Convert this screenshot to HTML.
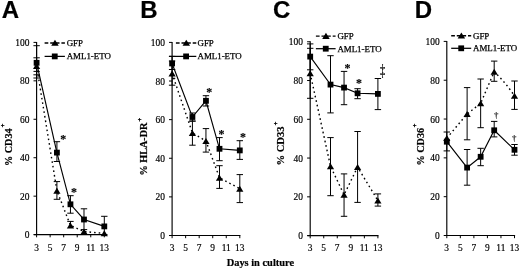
<!DOCTYPE html>
<html><head><meta charset="utf-8"><title>Figure</title>
<style>
html,body{margin:0;padding:0;background:#fff;}
svg{display:block;}
</style></head>
<body>
<svg width="520" height="270" viewBox="0 0 520 270">
<rect width="520" height="270" fill="#fff"/>
<line x1="36.60" y1="41.90" x2="36.60" y2="235.10" stroke="#000" stroke-width="1.15"/>
<line x1="33.80" y1="234.60" x2="104.90" y2="234.60" stroke="#000" stroke-width="1.15"/>
<line x1="33.50" y1="234.60" x2="36.60" y2="234.60" stroke="#000" stroke-width="1.0"/>
<text x="29.40" y="238.10" font-size="9.45" text-anchor="end" font-weight="normal" font-family='"Liberation Serif", "DejaVu Serif", serif' stroke="#000" stroke-width="0.18">0</text>
<line x1="33.50" y1="196.16" x2="36.60" y2="196.16" stroke="#000" stroke-width="1.0"/>
<text x="29.40" y="199.66" font-size="9.45" text-anchor="end" font-weight="normal" font-family='"Liberation Serif", "DejaVu Serif", serif' stroke="#000" stroke-width="0.18">20</text>
<line x1="33.50" y1="157.72" x2="36.60" y2="157.72" stroke="#000" stroke-width="1.0"/>
<text x="29.40" y="161.22" font-size="9.45" text-anchor="end" font-weight="normal" font-family='"Liberation Serif", "DejaVu Serif", serif' stroke="#000" stroke-width="0.18">40</text>
<line x1="33.50" y1="119.28" x2="36.60" y2="119.28" stroke="#000" stroke-width="1.0"/>
<text x="29.40" y="122.78" font-size="9.45" text-anchor="end" font-weight="normal" font-family='"Liberation Serif", "DejaVu Serif", serif' stroke="#000" stroke-width="0.18">60</text>
<line x1="33.50" y1="80.84" x2="36.60" y2="80.84" stroke="#000" stroke-width="1.0"/>
<text x="29.40" y="84.34" font-size="9.45" text-anchor="end" font-weight="normal" font-family='"Liberation Serif", "DejaVu Serif", serif' stroke="#000" stroke-width="0.18">80</text>
<line x1="33.50" y1="42.40" x2="36.60" y2="42.40" stroke="#000" stroke-width="1.0"/>
<text x="29.40" y="45.90" font-size="9.45" text-anchor="end" font-weight="normal" font-family='"Liberation Serif", "DejaVu Serif", serif' stroke="#000" stroke-width="0.18">100</text>
<line x1="36.60" y1="234.60" x2="36.60" y2="237.30" stroke="#000" stroke-width="1.0"/>
<text x="36.50" y="251.10" font-size="9.4" text-anchor="middle" font-weight="normal" font-family='"Liberation Serif", "DejaVu Serif", serif' stroke="#000" stroke-width="0.18">3</text>
<line x1="50.14" y1="234.60" x2="50.14" y2="237.30" stroke="#000" stroke-width="1.0"/>
<text x="50.04" y="251.10" font-size="9.4" text-anchor="middle" font-weight="normal" font-family='"Liberation Serif", "DejaVu Serif", serif' stroke="#000" stroke-width="0.18">5</text>
<line x1="63.68" y1="234.60" x2="63.68" y2="237.30" stroke="#000" stroke-width="1.0"/>
<text x="63.58" y="251.10" font-size="9.4" text-anchor="middle" font-weight="normal" font-family='"Liberation Serif", "DejaVu Serif", serif' stroke="#000" stroke-width="0.18">7</text>
<line x1="77.22" y1="234.60" x2="77.22" y2="237.30" stroke="#000" stroke-width="1.0"/>
<text x="77.12" y="251.10" font-size="9.4" text-anchor="middle" font-weight="normal" font-family='"Liberation Serif", "DejaVu Serif", serif' stroke="#000" stroke-width="0.18">9</text>
<line x1="90.76" y1="234.60" x2="90.76" y2="237.30" stroke="#000" stroke-width="1.0"/>
<text x="90.66" y="251.10" font-size="9.4" text-anchor="middle" font-weight="normal" font-family='"Liberation Serif", "DejaVu Serif", serif' stroke="#000" stroke-width="0.18">11</text>
<line x1="104.30" y1="234.60" x2="104.30" y2="237.30" stroke="#000" stroke-width="1.0"/>
<text x="104.20" y="251.10" font-size="9.4" text-anchor="middle" font-weight="normal" font-family='"Liberation Serif", "DejaVu Serif", serif' stroke="#000" stroke-width="0.18">13</text>
<text x="1.70" y="18.40" font-size="24" text-anchor="start" font-weight="bold" font-family='"Liberation Sans", "DejaVu Sans", sans-serif' stroke="#000" stroke-width="0.2">A</text>
<text transform="translate(11.7,166) rotate(-90)" font-size="10.2" font-weight="bold" font-family='"Liberation Serif", "DejaVu Serif", serif' stroke="#000" stroke-width="0.2">% CD34<tspan dy="-6.3" dx="1.1" font-size="6.5" font-weight="normal" stroke-width="0.45">+</tspan></text>
<line x1="44.60" y1="43.00" x2="64.90" y2="43.00" stroke="#000" stroke-width="1.45" stroke-dasharray="3.7 1.9"/>
<polygon points="54.95,39.75 58.70,45.85 51.20,45.85" fill="#000"/>
<text x="66.70" y="46.00" font-size="8.9" text-anchor="start" font-weight="normal" font-family='"Liberation Serif", "DejaVu Serif", serif' stroke="#000" stroke-width="0.25">GFP</text>
<line x1="44.60" y1="56.40" x2="64.90" y2="56.40" stroke="#000" stroke-width="1.25"/>
<rect x="51.85" y="53.50" width="5.8" height="5.8" fill="#000"/>
<text x="66.70" y="59.40" font-size="8.9" text-anchor="start" font-weight="normal" font-family='"Liberation Serif", "DejaVu Serif", serif' stroke="#000" stroke-width="0.25">AML1-ETO</text>
<path d="M36.60,66.00 L56.91,190.70 L70.45,225.40 L83.99,231.60 L104.30,233.30" fill="none" stroke="#000" stroke-width="1.4" stroke-dasharray="1.6 3.0"/>
<line x1="36.60" y1="57.80" x2="36.60" y2="74.80" stroke="#000" stroke-width="1.0"/>
<line x1="33.40" y1="57.80" x2="39.80" y2="57.80" stroke="#000" stroke-width="1.0"/>
<line x1="33.40" y1="74.80" x2="39.80" y2="74.80" stroke="#000" stroke-width="1.0"/>
<polygon points="36.60,63.00 40.20,69.00 33.00,69.00" fill="#000"/>
<line x1="56.91" y1="181.60" x2="56.91" y2="199.30" stroke="#000" stroke-width="1.0"/>
<line x1="53.71" y1="181.60" x2="60.11" y2="181.60" stroke="#000" stroke-width="1.0"/>
<line x1="53.71" y1="199.30" x2="60.11" y2="199.30" stroke="#000" stroke-width="1.0"/>
<polygon points="56.91,187.70 60.51,193.70 53.31,193.70" fill="#000"/>
<line x1="70.45" y1="221.40" x2="70.45" y2="225.40" stroke="#000" stroke-width="1.0"/>
<line x1="67.25" y1="221.40" x2="73.65" y2="221.40" stroke="#000" stroke-width="1.0"/>
<polygon points="70.45,222.40 74.05,228.40 66.85,228.40" fill="#000"/>
<polygon points="83.99,228.60 87.59,234.60 80.39,234.60" fill="#000"/>
<polygon points="104.30,230.30 107.90,236.30 100.70,236.30" fill="#000"/>
<polyline points="36.60,62.80 56.91,152.60 70.45,204.30 83.99,219.50 104.30,226.40" fill="none" stroke="#000" stroke-width="1.15"/>
<line x1="36.60" y1="45.70" x2="36.60" y2="78.00" stroke="#000" stroke-width="1.0"/>
<line x1="33.40" y1="45.70" x2="39.80" y2="45.70" stroke="#000" stroke-width="1.0"/>
<line x1="33.40" y1="78.00" x2="39.80" y2="78.00" stroke="#000" stroke-width="1.0"/>
<rect x="33.70" y="59.90" width="5.8" height="5.8" fill="#000"/>
<line x1="56.91" y1="141.70" x2="56.91" y2="161.50" stroke="#000" stroke-width="1.0"/>
<line x1="53.71" y1="141.70" x2="60.11" y2="141.70" stroke="#000" stroke-width="1.0"/>
<line x1="53.71" y1="161.50" x2="60.11" y2="161.50" stroke="#000" stroke-width="1.0"/>
<rect x="54.01" y="149.70" width="5.8" height="5.8" fill="#000"/>
<line x1="70.45" y1="195.70" x2="70.45" y2="213.20" stroke="#000" stroke-width="1.0"/>
<line x1="67.25" y1="195.70" x2="73.65" y2="195.70" stroke="#000" stroke-width="1.0"/>
<line x1="67.25" y1="213.20" x2="73.65" y2="213.20" stroke="#000" stroke-width="1.0"/>
<rect x="67.55" y="201.40" width="5.8" height="5.8" fill="#000"/>
<line x1="83.99" y1="208.80" x2="83.99" y2="229.60" stroke="#000" stroke-width="1.0"/>
<line x1="80.79" y1="208.80" x2="87.19" y2="208.80" stroke="#000" stroke-width="1.0"/>
<line x1="80.79" y1="229.60" x2="87.19" y2="229.60" stroke="#000" stroke-width="1.0"/>
<rect x="81.09" y="216.60" width="5.8" height="5.8" fill="#000"/>
<line x1="104.30" y1="216.30" x2="104.30" y2="234.60" stroke="#000" stroke-width="1.0"/>
<line x1="101.10" y1="216.30" x2="107.50" y2="216.30" stroke="#000" stroke-width="1.0"/>
<line x1="101.10" y1="234.60" x2="107.50" y2="234.60" stroke="#000" stroke-width="1.0"/>
<rect x="101.40" y="223.50" width="5.8" height="5.8" fill="#000"/>
<line x1="33.50" y1="71.40" x2="39.80" y2="71.40" stroke="#000" stroke-width="1.0"/>
<text x="63.30" y="143.30" font-size="12" text-anchor="middle" font-weight="bold" font-family='"Liberation Serif", "DejaVu Serif", serif' stroke="#000" stroke-width="0.15">*</text>
<text x="73.90" y="196.00" font-size="12" text-anchor="middle" font-weight="bold" font-family='"Liberation Serif", "DejaVu Serif", serif' stroke="#000" stroke-width="0.15">*</text>
<line x1="172.10" y1="41.90" x2="172.10" y2="236.00" stroke="#000" stroke-width="1.15"/>
<line x1="169.30" y1="235.50" x2="240.40" y2="235.50" stroke="#000" stroke-width="1.15"/>
<line x1="169.00" y1="235.50" x2="172.10" y2="235.50" stroke="#000" stroke-width="1.0"/>
<text x="164.90" y="239.00" font-size="9.45" text-anchor="end" font-weight="normal" font-family='"Liberation Serif", "DejaVu Serif", serif' stroke="#000" stroke-width="0.18">0</text>
<line x1="169.00" y1="196.88" x2="172.10" y2="196.88" stroke="#000" stroke-width="1.0"/>
<text x="164.90" y="200.38" font-size="9.45" text-anchor="end" font-weight="normal" font-family='"Liberation Serif", "DejaVu Serif", serif' stroke="#000" stroke-width="0.18">20</text>
<line x1="169.00" y1="158.26" x2="172.10" y2="158.26" stroke="#000" stroke-width="1.0"/>
<text x="164.90" y="161.76" font-size="9.45" text-anchor="end" font-weight="normal" font-family='"Liberation Serif", "DejaVu Serif", serif' stroke="#000" stroke-width="0.18">40</text>
<line x1="169.00" y1="119.64" x2="172.10" y2="119.64" stroke="#000" stroke-width="1.0"/>
<text x="164.90" y="123.14" font-size="9.45" text-anchor="end" font-weight="normal" font-family='"Liberation Serif", "DejaVu Serif", serif' stroke="#000" stroke-width="0.18">60</text>
<line x1="169.00" y1="81.02" x2="172.10" y2="81.02" stroke="#000" stroke-width="1.0"/>
<text x="164.90" y="84.52" font-size="9.45" text-anchor="end" font-weight="normal" font-family='"Liberation Serif", "DejaVu Serif", serif' stroke="#000" stroke-width="0.18">80</text>
<line x1="169.00" y1="42.40" x2="172.10" y2="42.40" stroke="#000" stroke-width="1.0"/>
<text x="164.90" y="45.90" font-size="9.45" text-anchor="end" font-weight="normal" font-family='"Liberation Serif", "DejaVu Serif", serif' stroke="#000" stroke-width="0.18">100</text>
<line x1="172.10" y1="235.50" x2="172.10" y2="238.20" stroke="#000" stroke-width="1.0"/>
<text x="172.00" y="251.10" font-size="9.4" text-anchor="middle" font-weight="normal" font-family='"Liberation Serif", "DejaVu Serif", serif' stroke="#000" stroke-width="0.18">3</text>
<line x1="185.64" y1="235.50" x2="185.64" y2="238.20" stroke="#000" stroke-width="1.0"/>
<text x="185.54" y="251.10" font-size="9.4" text-anchor="middle" font-weight="normal" font-family='"Liberation Serif", "DejaVu Serif", serif' stroke="#000" stroke-width="0.18">5</text>
<line x1="199.18" y1="235.50" x2="199.18" y2="238.20" stroke="#000" stroke-width="1.0"/>
<text x="199.08" y="251.10" font-size="9.4" text-anchor="middle" font-weight="normal" font-family='"Liberation Serif", "DejaVu Serif", serif' stroke="#000" stroke-width="0.18">7</text>
<line x1="212.72" y1="235.50" x2="212.72" y2="238.20" stroke="#000" stroke-width="1.0"/>
<text x="212.62" y="251.10" font-size="9.4" text-anchor="middle" font-weight="normal" font-family='"Liberation Serif", "DejaVu Serif", serif' stroke="#000" stroke-width="0.18">9</text>
<line x1="226.26" y1="235.50" x2="226.26" y2="238.20" stroke="#000" stroke-width="1.0"/>
<text x="226.16" y="251.10" font-size="9.4" text-anchor="middle" font-weight="normal" font-family='"Liberation Serif", "DejaVu Serif", serif' stroke="#000" stroke-width="0.18">11</text>
<line x1="239.80" y1="235.50" x2="239.80" y2="238.20" stroke="#000" stroke-width="1.0"/>
<text x="239.70" y="251.10" font-size="9.4" text-anchor="middle" font-weight="normal" font-family='"Liberation Serif", "DejaVu Serif", serif' stroke="#000" stroke-width="0.18">13</text>
<text x="140.20" y="18.40" font-size="24" text-anchor="start" font-weight="bold" font-family='"Liberation Sans", "DejaVu Sans", sans-serif' stroke="#000" stroke-width="0.2">B</text>
<text transform="translate(147,175.5) rotate(-90)" font-size="10.2" font-weight="bold" font-family='"Liberation Serif", "DejaVu Serif", serif' stroke="#000" stroke-width="0.2">% HLA-DR<tspan dy="-4.9" dx="1.1" font-size="6.5" font-weight="normal" stroke-width="0.45">+</tspan></text>
<line x1="175.90" y1="43.00" x2="196.30" y2="43.00" stroke="#000" stroke-width="1.45" stroke-dasharray="3.7 1.9"/>
<polygon points="186.30,39.75 190.05,45.85 182.55,45.85" fill="#000"/>
<text x="197.50" y="46.00" font-size="8.9" text-anchor="start" font-weight="normal" font-family='"Liberation Serif", "DejaVu Serif", serif' stroke="#000" stroke-width="0.25">GFP</text>
<line x1="169.00" y1="56.40" x2="196.30" y2="56.40" stroke="#000" stroke-width="1.25"/>
<rect x="183.20" y="53.50" width="5.8" height="5.8" fill="#000"/>
<text x="197.50" y="59.40" font-size="8.9" text-anchor="start" font-weight="normal" font-family='"Liberation Serif", "DejaVu Serif", serif' stroke="#000" stroke-width="0.25">AML1-ETO</text>
<path d="M172.10,73.50 L192.41,132.90 L205.95,141.00 L219.49,177.70 L239.80,188.70" fill="none" stroke="#000" stroke-width="1.4" stroke-dasharray="1.6 3.0"/>
<line x1="172.10" y1="61.00" x2="172.10" y2="85.20" stroke="#000" stroke-width="1.0"/>
<line x1="168.90" y1="61.00" x2="175.30" y2="61.00" stroke="#000" stroke-width="1.0"/>
<line x1="168.90" y1="85.20" x2="175.30" y2="85.20" stroke="#000" stroke-width="1.0"/>
<polygon points="172.10,70.50 175.70,76.50 168.50,76.50" fill="#000"/>
<line x1="192.41" y1="121.10" x2="192.41" y2="145.20" stroke="#000" stroke-width="1.0"/>
<line x1="189.21" y1="121.10" x2="195.61" y2="121.10" stroke="#000" stroke-width="1.0"/>
<line x1="189.21" y1="145.20" x2="195.61" y2="145.20" stroke="#000" stroke-width="1.0"/>
<polygon points="192.41,129.90 196.01,135.90 188.81,135.90" fill="#000"/>
<line x1="205.95" y1="128.60" x2="205.95" y2="152.10" stroke="#000" stroke-width="1.0"/>
<line x1="202.75" y1="128.60" x2="209.15" y2="128.60" stroke="#000" stroke-width="1.0"/>
<line x1="202.75" y1="152.10" x2="209.15" y2="152.10" stroke="#000" stroke-width="1.0"/>
<polygon points="205.95,138.00 209.55,144.00 202.35,144.00" fill="#000"/>
<line x1="219.49" y1="165.70" x2="219.49" y2="188.40" stroke="#000" stroke-width="1.0"/>
<line x1="216.29" y1="165.70" x2="222.69" y2="165.70" stroke="#000" stroke-width="1.0"/>
<line x1="216.29" y1="188.40" x2="222.69" y2="188.40" stroke="#000" stroke-width="1.0"/>
<polygon points="219.49,174.70 223.09,180.70 215.89,180.70" fill="#000"/>
<line x1="239.80" y1="174.60" x2="239.80" y2="202.60" stroke="#000" stroke-width="1.0"/>
<line x1="236.60" y1="174.60" x2="243.00" y2="174.60" stroke="#000" stroke-width="1.0"/>
<line x1="236.60" y1="202.60" x2="243.00" y2="202.60" stroke="#000" stroke-width="1.0"/>
<polygon points="239.80,185.70 243.40,191.70 236.20,191.70" fill="#000"/>
<polyline points="172.10,63.50 192.41,117.00 205.95,100.80 219.49,148.80 239.80,150.40" fill="none" stroke="#000" stroke-width="1.15"/>
<line x1="172.10" y1="56.40" x2="172.10" y2="69.50" stroke="#000" stroke-width="1.0"/>
<line x1="168.90" y1="56.40" x2="175.30" y2="56.40" stroke="#000" stroke-width="1.0"/>
<line x1="168.90" y1="69.50" x2="175.30" y2="69.50" stroke="#000" stroke-width="1.0"/>
<rect x="169.20" y="60.60" width="5.8" height="5.8" fill="#000"/>
<line x1="192.41" y1="113.00" x2="192.41" y2="121.10" stroke="#000" stroke-width="1.0"/>
<line x1="189.21" y1="113.00" x2="195.61" y2="113.00" stroke="#000" stroke-width="1.0"/>
<line x1="189.21" y1="121.10" x2="195.61" y2="121.10" stroke="#000" stroke-width="1.0"/>
<rect x="189.51" y="114.10" width="5.8" height="5.8" fill="#000"/>
<line x1="205.95" y1="95.70" x2="205.95" y2="106.00" stroke="#000" stroke-width="1.0"/>
<line x1="202.75" y1="95.70" x2="209.15" y2="95.70" stroke="#000" stroke-width="1.0"/>
<line x1="202.75" y1="106.00" x2="209.15" y2="106.00" stroke="#000" stroke-width="1.0"/>
<rect x="203.05" y="97.90" width="5.8" height="5.8" fill="#000"/>
<line x1="219.49" y1="137.60" x2="219.49" y2="160.70" stroke="#000" stroke-width="1.0"/>
<line x1="216.29" y1="137.60" x2="222.69" y2="137.60" stroke="#000" stroke-width="1.0"/>
<line x1="216.29" y1="160.70" x2="222.69" y2="160.70" stroke="#000" stroke-width="1.0"/>
<rect x="216.59" y="145.90" width="5.8" height="5.8" fill="#000"/>
<line x1="239.80" y1="140.70" x2="239.80" y2="159.40" stroke="#000" stroke-width="1.0"/>
<line x1="236.60" y1="140.70" x2="243.00" y2="140.70" stroke="#000" stroke-width="1.0"/>
<line x1="236.60" y1="159.40" x2="243.00" y2="159.40" stroke="#000" stroke-width="1.0"/>
<rect x="236.90" y="147.50" width="5.8" height="5.8" fill="#000"/>
<line x1="172.10" y1="78.30" x2="175.30" y2="78.30" stroke="#000" stroke-width="1.0"/>
<text x="209.30" y="96.00" font-size="12" text-anchor="middle" font-weight="bold" font-family='"Liberation Serif", "DejaVu Serif", serif' stroke="#000" stroke-width="0.15">*</text>
<text x="221.60" y="138.00" font-size="12" text-anchor="middle" font-weight="bold" font-family='"Liberation Serif", "DejaVu Serif", serif' stroke="#000" stroke-width="0.15">*</text>
<text x="243.00" y="141.40" font-size="12" text-anchor="middle" font-weight="bold" font-family='"Liberation Serif", "DejaVu Serif", serif' stroke="#000" stroke-width="0.15">*</text>
<line x1="310.20" y1="41.25" x2="310.20" y2="236.10" stroke="#000" stroke-width="1.15"/>
<line x1="307.40" y1="235.60" x2="378.50" y2="235.60" stroke="#000" stroke-width="1.15"/>
<line x1="307.10" y1="235.60" x2="310.20" y2="235.60" stroke="#000" stroke-width="1.0"/>
<text x="303.00" y="239.10" font-size="9.45" text-anchor="end" font-weight="normal" font-family='"Liberation Serif", "DejaVu Serif", serif' stroke="#000" stroke-width="0.18">0</text>
<line x1="307.10" y1="196.83" x2="310.20" y2="196.83" stroke="#000" stroke-width="1.0"/>
<text x="303.00" y="200.33" font-size="9.45" text-anchor="end" font-weight="normal" font-family='"Liberation Serif", "DejaVu Serif", serif' stroke="#000" stroke-width="0.18">20</text>
<line x1="307.10" y1="158.06" x2="310.20" y2="158.06" stroke="#000" stroke-width="1.0"/>
<text x="303.00" y="161.56" font-size="9.45" text-anchor="end" font-weight="normal" font-family='"Liberation Serif", "DejaVu Serif", serif' stroke="#000" stroke-width="0.18">40</text>
<line x1="307.10" y1="119.29" x2="310.20" y2="119.29" stroke="#000" stroke-width="1.0"/>
<text x="303.00" y="122.79" font-size="9.45" text-anchor="end" font-weight="normal" font-family='"Liberation Serif", "DejaVu Serif", serif' stroke="#000" stroke-width="0.18">60</text>
<line x1="307.10" y1="80.52" x2="310.20" y2="80.52" stroke="#000" stroke-width="1.0"/>
<text x="303.00" y="84.02" font-size="9.45" text-anchor="end" font-weight="normal" font-family='"Liberation Serif", "DejaVu Serif", serif' stroke="#000" stroke-width="0.18">80</text>
<line x1="307.10" y1="41.75" x2="310.20" y2="41.75" stroke="#000" stroke-width="1.0"/>
<text x="303.00" y="45.25" font-size="9.45" text-anchor="end" font-weight="normal" font-family='"Liberation Serif", "DejaVu Serif", serif' stroke="#000" stroke-width="0.18">100</text>
<line x1="310.20" y1="235.60" x2="310.20" y2="238.30" stroke="#000" stroke-width="1.0"/>
<text x="310.10" y="251.10" font-size="9.4" text-anchor="middle" font-weight="normal" font-family='"Liberation Serif", "DejaVu Serif", serif' stroke="#000" stroke-width="0.18">3</text>
<line x1="323.74" y1="235.60" x2="323.74" y2="238.30" stroke="#000" stroke-width="1.0"/>
<text x="323.64" y="251.10" font-size="9.4" text-anchor="middle" font-weight="normal" font-family='"Liberation Serif", "DejaVu Serif", serif' stroke="#000" stroke-width="0.18">5</text>
<line x1="337.28" y1="235.60" x2="337.28" y2="238.30" stroke="#000" stroke-width="1.0"/>
<text x="337.18" y="251.10" font-size="9.4" text-anchor="middle" font-weight="normal" font-family='"Liberation Serif", "DejaVu Serif", serif' stroke="#000" stroke-width="0.18">7</text>
<line x1="350.82" y1="235.60" x2="350.82" y2="238.30" stroke="#000" stroke-width="1.0"/>
<text x="350.72" y="251.10" font-size="9.4" text-anchor="middle" font-weight="normal" font-family='"Liberation Serif", "DejaVu Serif", serif' stroke="#000" stroke-width="0.18">9</text>
<line x1="364.36" y1="235.60" x2="364.36" y2="238.30" stroke="#000" stroke-width="1.0"/>
<text x="364.26" y="251.10" font-size="9.4" text-anchor="middle" font-weight="normal" font-family='"Liberation Serif", "DejaVu Serif", serif' stroke="#000" stroke-width="0.18">11</text>
<line x1="377.90" y1="235.60" x2="377.90" y2="238.30" stroke="#000" stroke-width="1.0"/>
<text x="377.80" y="251.10" font-size="9.4" text-anchor="middle" font-weight="normal" font-family='"Liberation Serif", "DejaVu Serif", serif' stroke="#000" stroke-width="0.18">13</text>
<text x="273.00" y="18.40" font-size="24" text-anchor="start" font-weight="bold" font-family='"Liberation Sans", "DejaVu Sans", sans-serif' stroke="#000" stroke-width="0.2">C</text>
<text transform="translate(283.9,165.6) rotate(-90)" font-size="10.6" font-weight="bold" font-family='"Liberation Serif", "DejaVu Serif", serif' stroke="#000" stroke-width="0.2">% CD33<tspan dy="-6.3" dx="1.1" font-size="6.5" font-weight="normal" stroke-width="0.45">+</tspan></text>
<line x1="315.90" y1="36.10" x2="335.60" y2="36.10" stroke="#000" stroke-width="1.45" stroke-dasharray="3.7 1.9"/>
<polygon points="325.95,32.85 329.70,38.95 322.20,38.95" fill="#000"/>
<text x="337.40" y="39.10" font-size="8.9" text-anchor="start" font-weight="normal" font-family='"Liberation Serif", "DejaVu Serif", serif' stroke="#000" stroke-width="0.25">GFP</text>
<line x1="315.90" y1="48.70" x2="335.60" y2="48.70" stroke="#000" stroke-width="1.25"/>
<rect x="322.85" y="45.80" width="5.8" height="5.8" fill="#000"/>
<text x="337.40" y="51.70" font-size="8.9" text-anchor="start" font-weight="normal" font-family='"Liberation Serif", "DejaVu Serif", serif' stroke="#000" stroke-width="0.25">AML1-ETO</text>
<path d="M310.20,73.30 L330.51,166.30 L344.05,194.80 L357.59,167.10 L377.90,200.60" fill="none" stroke="#000" stroke-width="1.4" stroke-dasharray="1.6 3.0"/>
<line x1="310.20" y1="48.30" x2="310.20" y2="98.30" stroke="#000" stroke-width="1.0"/>
<line x1="307.00" y1="48.30" x2="313.40" y2="48.30" stroke="#000" stroke-width="1.0"/>
<line x1="307.00" y1="98.30" x2="313.40" y2="98.30" stroke="#000" stroke-width="1.0"/>
<polygon points="310.20,70.30 313.80,76.30 306.60,76.30" fill="#000"/>
<line x1="330.51" y1="137.60" x2="330.51" y2="195.70" stroke="#000" stroke-width="1.0"/>
<line x1="327.31" y1="137.60" x2="333.71" y2="137.60" stroke="#000" stroke-width="1.0"/>
<line x1="327.31" y1="195.70" x2="333.71" y2="195.70" stroke="#000" stroke-width="1.0"/>
<polygon points="330.51,163.30 334.11,169.30 326.91,169.30" fill="#000"/>
<line x1="344.05" y1="173.90" x2="344.05" y2="216.30" stroke="#000" stroke-width="1.0"/>
<line x1="340.85" y1="173.90" x2="347.25" y2="173.90" stroke="#000" stroke-width="1.0"/>
<line x1="340.85" y1="216.30" x2="347.25" y2="216.30" stroke="#000" stroke-width="1.0"/>
<polygon points="344.05,191.80 347.65,197.80 340.45,197.80" fill="#000"/>
<line x1="357.59" y1="131.50" x2="357.59" y2="202.40" stroke="#000" stroke-width="1.0"/>
<line x1="354.39" y1="131.50" x2="360.79" y2="131.50" stroke="#000" stroke-width="1.0"/>
<line x1="354.39" y1="202.40" x2="360.79" y2="202.40" stroke="#000" stroke-width="1.0"/>
<polygon points="357.59,164.10 361.19,170.10 353.99,170.10" fill="#000"/>
<line x1="377.90" y1="193.90" x2="377.90" y2="206.10" stroke="#000" stroke-width="1.0"/>
<line x1="374.70" y1="193.90" x2="381.10" y2="193.90" stroke="#000" stroke-width="1.0"/>
<line x1="374.70" y1="206.10" x2="381.10" y2="206.10" stroke="#000" stroke-width="1.0"/>
<polygon points="377.90,197.60 381.50,203.60 374.30,203.60" fill="#000"/>
<polyline points="310.20,56.60 330.51,84.60 344.05,87.60 357.59,93.30 377.90,93.90" fill="none" stroke="#000" stroke-width="1.15"/>
<line x1="310.20" y1="43.90" x2="310.20" y2="69.80" stroke="#000" stroke-width="1.0"/>
<line x1="307.00" y1="43.90" x2="313.40" y2="43.90" stroke="#000" stroke-width="1.0"/>
<line x1="307.00" y1="69.80" x2="313.40" y2="69.80" stroke="#000" stroke-width="1.0"/>
<rect x="307.30" y="53.70" width="5.8" height="5.8" fill="#000"/>
<line x1="330.51" y1="55.70" x2="330.51" y2="112.90" stroke="#000" stroke-width="1.0"/>
<line x1="327.31" y1="55.70" x2="333.71" y2="55.70" stroke="#000" stroke-width="1.0"/>
<line x1="327.31" y1="112.90" x2="333.71" y2="112.90" stroke="#000" stroke-width="1.0"/>
<rect x="327.61" y="81.70" width="5.8" height="5.8" fill="#000"/>
<line x1="344.05" y1="71.40" x2="344.05" y2="104.70" stroke="#000" stroke-width="1.0"/>
<line x1="340.85" y1="71.40" x2="347.25" y2="71.40" stroke="#000" stroke-width="1.0"/>
<line x1="340.85" y1="104.70" x2="347.25" y2="104.70" stroke="#000" stroke-width="1.0"/>
<rect x="341.15" y="84.70" width="5.8" height="5.8" fill="#000"/>
<line x1="357.59" y1="88.70" x2="357.59" y2="98.70" stroke="#000" stroke-width="1.0"/>
<line x1="354.39" y1="88.70" x2="360.79" y2="88.70" stroke="#000" stroke-width="1.0"/>
<line x1="354.39" y1="98.70" x2="360.79" y2="98.70" stroke="#000" stroke-width="1.0"/>
<rect x="354.69" y="90.40" width="5.8" height="5.8" fill="#000"/>
<line x1="377.90" y1="78.50" x2="377.90" y2="109.60" stroke="#000" stroke-width="1.0"/>
<line x1="374.70" y1="78.50" x2="381.10" y2="78.50" stroke="#000" stroke-width="1.0"/>
<line x1="374.70" y1="109.60" x2="381.10" y2="109.60" stroke="#000" stroke-width="1.0"/>
<rect x="375.00" y="91.00" width="5.8" height="5.8" fill="#000"/>
<text x="347.60" y="71.80" font-size="12" text-anchor="middle" font-weight="bold" font-family='"Liberation Serif", "DejaVu Serif", serif' stroke="#000" stroke-width="0.15">*</text>
<text x="358.90" y="87.00" font-size="12" text-anchor="middle" font-weight="bold" font-family='"Liberation Serif", "DejaVu Serif", serif' stroke="#000" stroke-width="0.15">*</text>
<text transform="translate(382.6,75.6) scale(0.75,1.2)" font-size="14" text-anchor="middle" font-family='"Liberation Serif", "DejaVu Serif", serif' stroke="#000" stroke-width="0.2">‡</text>
<line x1="446.80" y1="40.90" x2="446.80" y2="236.00" stroke="#000" stroke-width="1.15"/>
<line x1="444.00" y1="235.50" x2="515.10" y2="235.50" stroke="#000" stroke-width="1.15"/>
<line x1="443.70" y1="235.50" x2="446.80" y2="235.50" stroke="#000" stroke-width="1.0"/>
<text x="439.60" y="239.00" font-size="9.45" text-anchor="end" font-weight="normal" font-family='"Liberation Serif", "DejaVu Serif", serif' stroke="#000" stroke-width="0.18">0</text>
<line x1="443.70" y1="196.68" x2="446.80" y2="196.68" stroke="#000" stroke-width="1.0"/>
<text x="439.60" y="200.18" font-size="9.45" text-anchor="end" font-weight="normal" font-family='"Liberation Serif", "DejaVu Serif", serif' stroke="#000" stroke-width="0.18">20</text>
<line x1="443.70" y1="157.86" x2="446.80" y2="157.86" stroke="#000" stroke-width="1.0"/>
<text x="439.60" y="161.36" font-size="9.45" text-anchor="end" font-weight="normal" font-family='"Liberation Serif", "DejaVu Serif", serif' stroke="#000" stroke-width="0.18">40</text>
<line x1="443.70" y1="119.04" x2="446.80" y2="119.04" stroke="#000" stroke-width="1.0"/>
<text x="439.60" y="122.54" font-size="9.45" text-anchor="end" font-weight="normal" font-family='"Liberation Serif", "DejaVu Serif", serif' stroke="#000" stroke-width="0.18">60</text>
<line x1="443.70" y1="80.22" x2="446.80" y2="80.22" stroke="#000" stroke-width="1.0"/>
<text x="439.60" y="83.72" font-size="9.45" text-anchor="end" font-weight="normal" font-family='"Liberation Serif", "DejaVu Serif", serif' stroke="#000" stroke-width="0.18">80</text>
<line x1="443.70" y1="41.40" x2="446.80" y2="41.40" stroke="#000" stroke-width="1.0"/>
<text x="439.60" y="44.90" font-size="9.45" text-anchor="end" font-weight="normal" font-family='"Liberation Serif", "DejaVu Serif", serif' stroke="#000" stroke-width="0.18">100</text>
<line x1="446.80" y1="235.50" x2="446.80" y2="238.20" stroke="#000" stroke-width="1.0"/>
<text x="446.70" y="251.10" font-size="9.4" text-anchor="middle" font-weight="normal" font-family='"Liberation Serif", "DejaVu Serif", serif' stroke="#000" stroke-width="0.18">3</text>
<line x1="460.34" y1="235.50" x2="460.34" y2="238.20" stroke="#000" stroke-width="1.0"/>
<text x="460.24" y="251.10" font-size="9.4" text-anchor="middle" font-weight="normal" font-family='"Liberation Serif", "DejaVu Serif", serif' stroke="#000" stroke-width="0.18">5</text>
<line x1="473.88" y1="235.50" x2="473.88" y2="238.20" stroke="#000" stroke-width="1.0"/>
<text x="473.78" y="251.10" font-size="9.4" text-anchor="middle" font-weight="normal" font-family='"Liberation Serif", "DejaVu Serif", serif' stroke="#000" stroke-width="0.18">7</text>
<line x1="487.42" y1="235.50" x2="487.42" y2="238.20" stroke="#000" stroke-width="1.0"/>
<text x="487.32" y="251.10" font-size="9.4" text-anchor="middle" font-weight="normal" font-family='"Liberation Serif", "DejaVu Serif", serif' stroke="#000" stroke-width="0.18">9</text>
<line x1="500.96" y1="235.50" x2="500.96" y2="238.20" stroke="#000" stroke-width="1.0"/>
<text x="500.86" y="251.10" font-size="9.4" text-anchor="middle" font-weight="normal" font-family='"Liberation Serif", "DejaVu Serif", serif' stroke="#000" stroke-width="0.18">11</text>
<line x1="514.50" y1="235.50" x2="514.50" y2="238.20" stroke="#000" stroke-width="1.0"/>
<text x="514.40" y="251.10" font-size="9.4" text-anchor="middle" font-weight="normal" font-family='"Liberation Serif", "DejaVu Serif", serif' stroke="#000" stroke-width="0.18">13</text>
<text x="414.80" y="18.40" font-size="24" text-anchor="start" font-weight="bold" font-family='"Liberation Sans", "DejaVu Sans", sans-serif' stroke="#000" stroke-width="0.2">D</text>
<text transform="translate(424,165.5) rotate(-90)" font-size="10.2" font-weight="bold" font-family='"Liberation Serif", "DejaVu Serif", serif' stroke="#000" stroke-width="0.2">% CD36<tspan dy="-7.1" dx="0.7" font-size="6.5" font-weight="normal" stroke-width="0.45">+</tspan></text>
<line x1="451.20" y1="35.70" x2="471.20" y2="35.70" stroke="#000" stroke-width="1.45" stroke-dasharray="3.7 1.9"/>
<polygon points="461.40,32.45 465.15,38.55 457.65,38.55" fill="#000"/>
<text x="473.00" y="38.70" font-size="8.9" text-anchor="start" font-weight="normal" font-family='"Liberation Serif", "DejaVu Serif", serif' stroke="#000" stroke-width="0.25">GFP</text>
<line x1="451.20" y1="48.30" x2="471.20" y2="48.30" stroke="#000" stroke-width="1.25"/>
<rect x="458.30" y="45.40" width="5.8" height="5.8" fill="#000"/>
<text x="473.00" y="51.30" font-size="8.9" text-anchor="start" font-weight="normal" font-family='"Liberation Serif", "DejaVu Serif", serif' stroke="#000" stroke-width="0.25">AML1-ETO</text>
<path d="M446.80,138.10 L467.11,114.00 L480.65,103.30 L494.19,71.70 Q505.55,82.55 514.50,95.80" fill="none" stroke="#000" stroke-width="1.4" stroke-dasharray="1.6 3.0"/>
<line x1="446.80" y1="132.00" x2="446.80" y2="138.10" stroke="#000" stroke-width="1.0"/>
<line x1="443.60" y1="132.00" x2="450.00" y2="132.00" stroke="#000" stroke-width="1.0"/>
<polygon points="446.80,135.10 450.40,141.10 443.20,141.10" fill="#000"/>
<line x1="467.11" y1="87.60" x2="467.11" y2="139.80" stroke="#000" stroke-width="1.0"/>
<line x1="463.91" y1="87.60" x2="470.31" y2="87.60" stroke="#000" stroke-width="1.0"/>
<line x1="463.91" y1="139.80" x2="470.31" y2="139.80" stroke="#000" stroke-width="1.0"/>
<polygon points="467.11,111.00 470.71,117.00 463.51,117.00" fill="#000"/>
<line x1="480.65" y1="79.00" x2="480.65" y2="127.70" stroke="#000" stroke-width="1.0"/>
<line x1="477.45" y1="79.00" x2="483.85" y2="79.00" stroke="#000" stroke-width="1.0"/>
<line x1="477.45" y1="127.70" x2="483.85" y2="127.70" stroke="#000" stroke-width="1.0"/>
<polygon points="480.65,100.30 484.25,106.30 477.05,106.30" fill="#000"/>
<line x1="494.19" y1="61.10" x2="494.19" y2="81.30" stroke="#000" stroke-width="1.0"/>
<line x1="490.99" y1="61.10" x2="497.39" y2="61.10" stroke="#000" stroke-width="1.0"/>
<line x1="490.99" y1="81.30" x2="497.39" y2="81.30" stroke="#000" stroke-width="1.0"/>
<polygon points="494.19,68.70 497.79,74.70 490.59,74.70" fill="#000"/>
<line x1="514.50" y1="81.00" x2="514.50" y2="109.40" stroke="#000" stroke-width="1.0"/>
<line x1="511.30" y1="81.00" x2="517.70" y2="81.00" stroke="#000" stroke-width="1.0"/>
<line x1="511.30" y1="109.40" x2="517.70" y2="109.40" stroke="#000" stroke-width="1.0"/>
<polygon points="514.50,92.80 518.10,98.80 510.90,98.80" fill="#000"/>
<polyline points="446.80,141.70 467.11,167.60 480.65,156.80 494.19,130.30 514.50,149.80" fill="none" stroke="#000" stroke-width="1.15"/>
<line x1="446.80" y1="141.70" x2="446.80" y2="150.90" stroke="#000" stroke-width="1.0"/>
<line x1="443.60" y1="150.90" x2="450.00" y2="150.90" stroke="#000" stroke-width="1.0"/>
<rect x="443.90" y="138.80" width="5.8" height="5.8" fill="#000"/>
<line x1="467.11" y1="149.50" x2="467.11" y2="185.20" stroke="#000" stroke-width="1.0"/>
<line x1="463.91" y1="149.50" x2="470.31" y2="149.50" stroke="#000" stroke-width="1.0"/>
<line x1="463.91" y1="185.20" x2="470.31" y2="185.20" stroke="#000" stroke-width="1.0"/>
<rect x="464.21" y="164.70" width="5.8" height="5.8" fill="#000"/>
<line x1="480.65" y1="148.30" x2="480.65" y2="165.70" stroke="#000" stroke-width="1.0"/>
<line x1="477.45" y1="148.30" x2="483.85" y2="148.30" stroke="#000" stroke-width="1.0"/>
<line x1="477.45" y1="165.70" x2="483.85" y2="165.70" stroke="#000" stroke-width="1.0"/>
<rect x="477.75" y="153.90" width="5.8" height="5.8" fill="#000"/>
<line x1="494.19" y1="121.40" x2="494.19" y2="136.90" stroke="#000" stroke-width="1.0"/>
<line x1="490.99" y1="121.40" x2="497.39" y2="121.40" stroke="#000" stroke-width="1.0"/>
<line x1="490.99" y1="136.90" x2="497.39" y2="136.90" stroke="#000" stroke-width="1.0"/>
<rect x="491.29" y="127.40" width="5.8" height="5.8" fill="#000"/>
<line x1="514.50" y1="144.50" x2="514.50" y2="155.20" stroke="#000" stroke-width="1.0"/>
<line x1="511.30" y1="144.50" x2="517.70" y2="144.50" stroke="#000" stroke-width="1.0"/>
<line x1="511.30" y1="155.20" x2="517.70" y2="155.20" stroke="#000" stroke-width="1.0"/>
<rect x="511.60" y="146.90" width="5.8" height="5.8" fill="#000"/>
<text x="496.30" y="118.20" font-size="8.8" text-anchor="middle" font-weight="normal" font-family='"Liberation Serif", "DejaVu Serif", serif' stroke="#000" stroke-width="0.15">†</text>
<text x="514.20" y="140.70" font-size="8.8" text-anchor="middle" font-weight="normal" font-family='"Liberation Serif", "DejaVu Serif", serif' stroke="#000" stroke-width="0.15">†</text>
<text x="226.70" y="266.00" font-size="10.4" text-anchor="start" font-weight="bold" font-family='"Liberation Serif", "DejaVu Serif", serif' stroke="#000" stroke-width="0.2">Days in culture</text>
</svg>
</body></html>
